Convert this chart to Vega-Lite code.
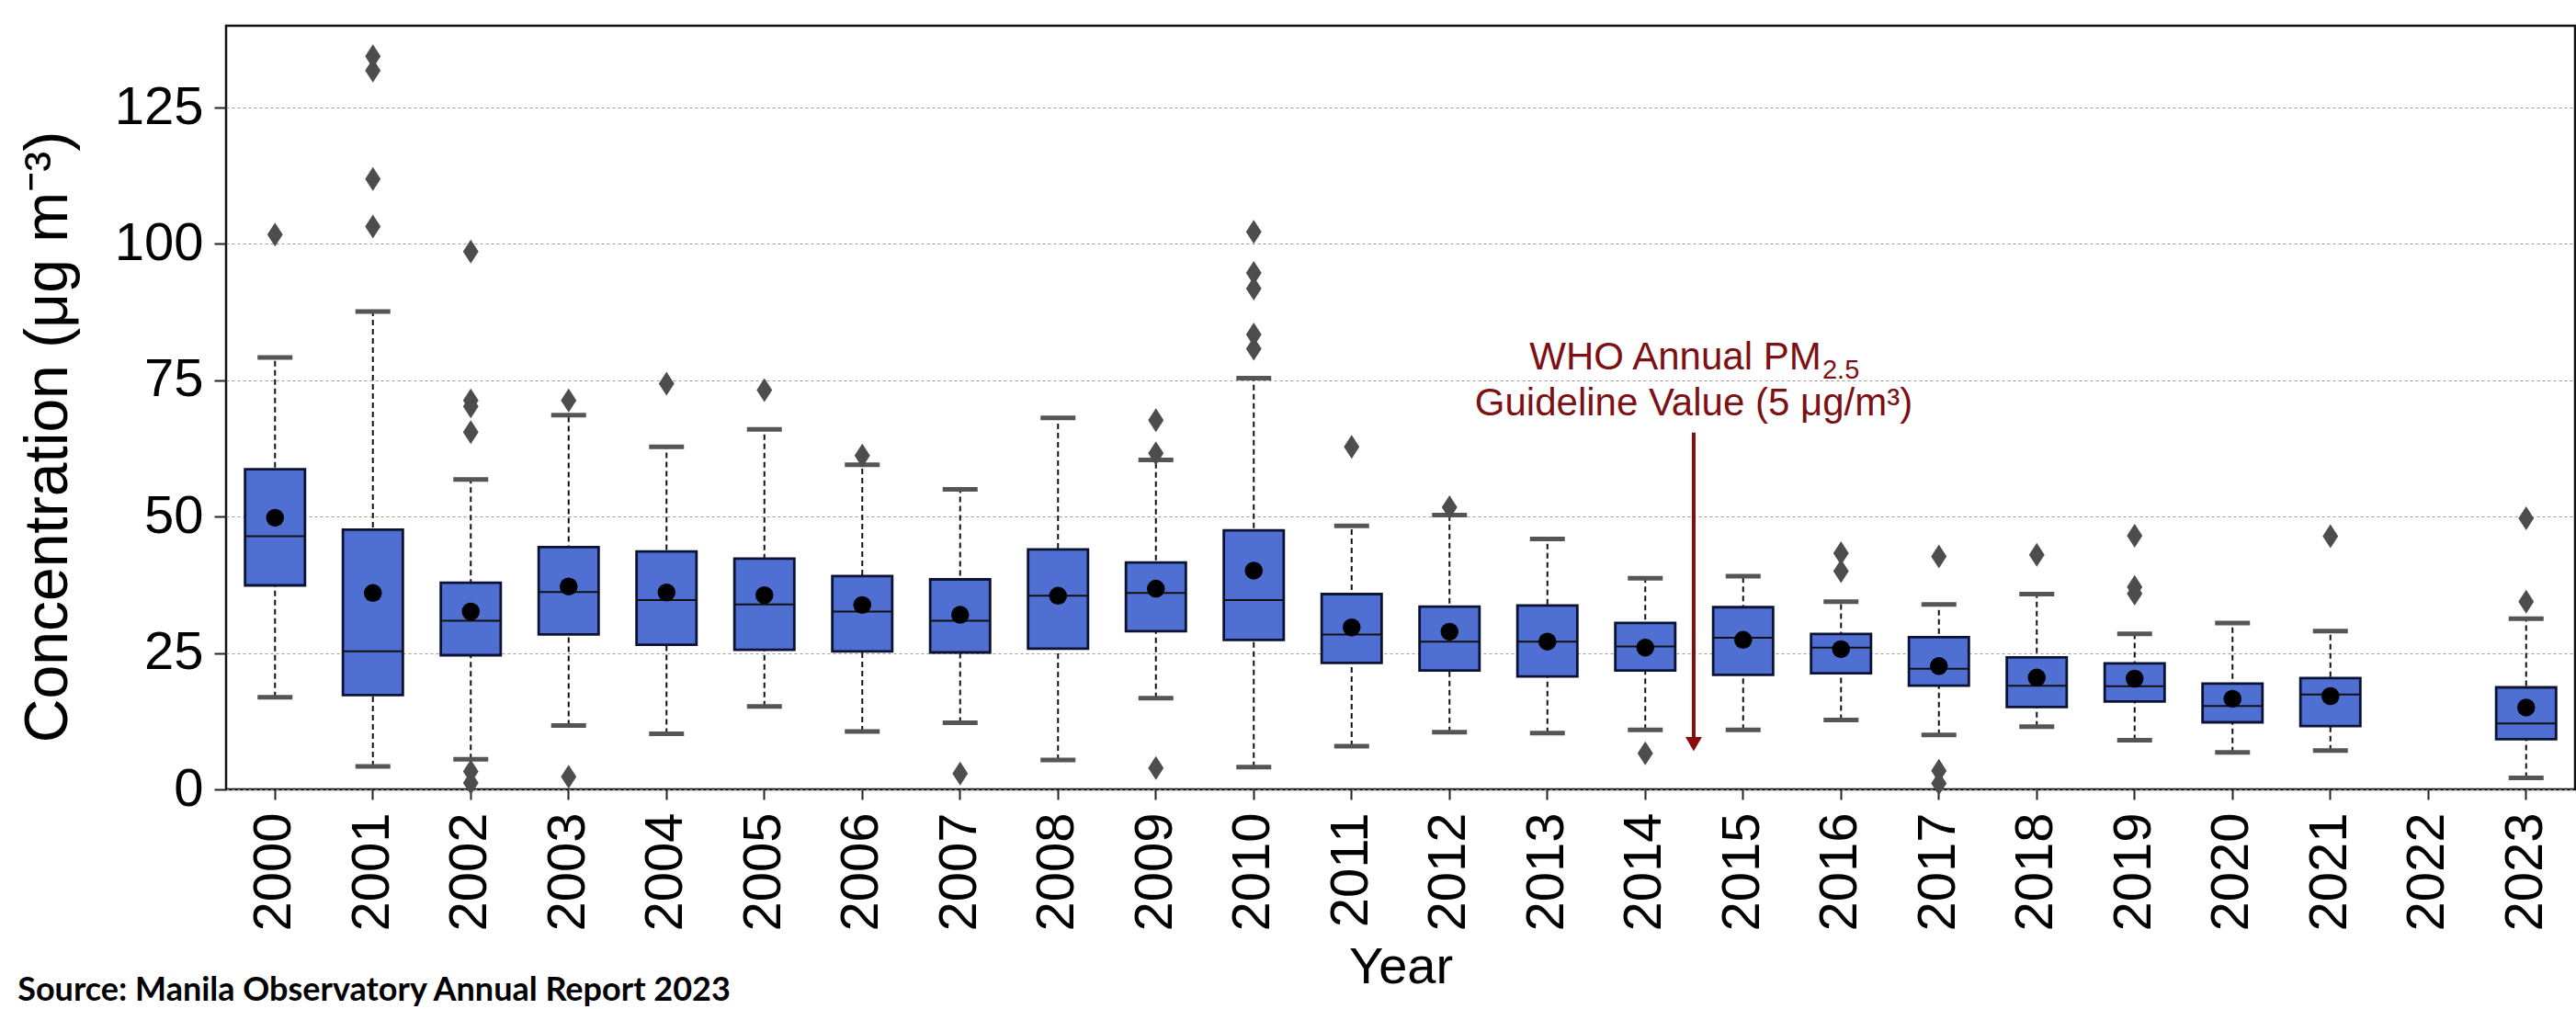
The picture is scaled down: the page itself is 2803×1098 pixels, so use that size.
{
  "$schema": "https://vega.github.io/schema/vega-lite/v6.json",
  "width": 2556,
  "height": 831,
  "autosize": {"type": "none"},
  "padding": {"left": 246, "top": 28, "right": 1, "bottom": 239},
  "background": "white",
  "title": {
    "text": "Source: Manila Observatory Annual Report 2023",
    "orient": "bottom",
    "anchor": "start",
    "frame": "bounds",
    "font": "Lato",
    "fontWeight": "bold",
    "fontSize": 36,
    "color": "#000000",
    "offset": -19
  },
  "config": {
    "font": "Liberation Sans",
    "view": {"stroke": "#111111", "strokeWidth": 2.5, "fill": "white"},
    "axisX": {
      "labelAngle": 270,
      "labelFontSize": 58,
      "labelColor": "#000000",
      "labelPadding": 14,
      "tickSize": 11,
      "tickWidth": 2,
      "tickColor": "#222222",
      "domain": false,
      "grid": false,
      "titleFontSize": 56,
      "titleFontWeight": "normal",
      "titleColor": "#000000",
      "titlePadding": 12
    },
    "axisY": {
      "labelFontSize": 58,
      "labelColor": "#000000",
      "labelPadding": 12,
      "tickSize": 13,
      "tickWidth": 2,
      "tickColor": "#222222",
      "domain": false,
      "grid": true,
      "gridDash": [3, 3],
      "gridColor": "#9a9a9a",
      "gridWidth": 1.2,
      "titleFontSize": 66,
      "titleFontWeight": "normal",
      "titleColor": "#000000",
      "titlePadding": 38,
      "titleY": 447
    }
  },
  "datasets": {
    "boxes": [
      {"year": "2000", "lo": 16.9, "q1": 37.4, "med": 46.4, "q3": 58.7, "hi": 79.2, "mean": 49.8},
      {"year": "2001", "lo": 4.2, "q1": 17.3, "med": 25.3, "q3": 47.6, "hi": 87.6, "mean": 36.0},
      {"year": "2002", "lo": 5.5, "q1": 24.6, "med": 30.9, "q3": 37.9, "hi": 56.8, "mean": 32.6},
      {"year": "2003", "lo": 11.7, "q1": 28.4, "med": 36.2, "q3": 44.4, "hi": 68.6, "mean": 37.2},
      {"year": "2004", "lo": 10.2, "q1": 26.5, "med": 34.7, "q3": 43.6, "hi": 62.8, "mean": 36.1},
      {"year": "2005", "lo": 15.2, "q1": 25.6, "med": 33.9, "q3": 42.3, "hi": 66.0, "mean": 35.6},
      {"year": "2006", "lo": 10.6, "q1": 25.3, "med": 32.6, "q3": 39.1, "hi": 59.5, "mean": 33.8},
      {"year": "2007", "lo": 12.2, "q1": 25.1, "med": 30.9, "q3": 38.5, "hi": 55.0, "mean": 32.0},
      {"year": "2008", "lo": 5.4, "q1": 25.8, "med": 35.5, "q3": 44.0, "hi": 68.1, "mean": 35.5},
      {"year": "2009", "lo": 16.7, "q1": 29.0, "med": 36.0, "q3": 41.6, "hi": 60.4, "mean": 36.8},
      {"year": "2010", "lo": 4.1, "q1": 27.4, "med": 34.7, "q3": 47.5, "hi": 75.4, "mean": 40.1},
      {"year": "2011", "lo": 7.9, "q1": 23.2, "med": 28.4, "q3": 35.8, "hi": 48.3, "mean": 29.7},
      {"year": "2012", "lo": 10.5, "q1": 21.8, "med": 27.1, "q3": 33.5, "hi": 50.3, "mean": 28.9},
      {"year": "2013", "lo": 10.3, "q1": 20.7, "med": 27.1, "q3": 33.7, "hi": 45.9, "mean": 27.1},
      {"year": "2014", "lo": 10.9, "q1": 21.8, "med": 26.2, "q3": 30.5, "hi": 38.7, "mean": 26.0},
      {"year": "2015", "lo": 10.9, "q1": 21.0, "med": 27.8, "q3": 33.4, "hi": 39.1, "mean": 27.4},
      {"year": "2016", "lo": 12.7, "q1": 21.3, "med": 26.0, "q3": 28.5, "hi": 34.4, "mean": 25.7},
      {"year": "2017", "lo": 10.0, "q1": 19.0, "med": 22.1, "q3": 27.9, "hi": 33.9, "mean": 22.6},
      {"year": "2018", "lo": 11.5, "q1": 15.1, "med": 19.0, "q3": 24.2, "hi": 35.8, "mean": 20.5},
      {"year": "2019", "lo": 9.0, "q1": 16.1, "med": 18.9, "q3": 23.1, "hi": 28.5, "mean": 20.3},
      {"year": "2020", "lo": 6.8, "q1": 12.3, "med": 15.3, "q3": 19.4, "hi": 30.5, "mean": 16.6},
      {"year": "2021", "lo": 7.1, "q1": 11.6, "med": 17.4, "q3": 20.4, "hi": 29.0, "mean": 17.1},
      {"year": "2023", "lo": 2.1, "q1": 9.2, "med": 12.1, "q3": 18.7, "hi": 31.3, "mean": 15.0}
    ],
    "outliers": [
      {"year": "2000", "value": 101.7},
      {"year": "2001", "value": 134.4},
      {"year": "2001", "value": 131.8},
      {"year": "2001", "value": 111.9},
      {"year": "2001", "value": 103.2},
      {"year": "2002", "value": 98.6},
      {"year": "2002", "value": 71.3},
      {"year": "2002", "value": 70.2},
      {"year": "2002", "value": 65.5},
      {"year": "2002", "value": 3.3},
      {"year": "2002", "value": 1.2},
      {"year": "2003", "value": 71.3},
      {"year": "2003", "value": 2.3},
      {"year": "2004", "value": 74.4},
      {"year": "2005", "value": 73.2},
      {"year": "2006", "value": 61.2},
      {"year": "2007", "value": 2.9},
      {"year": "2009", "value": 67.7},
      {"year": "2009", "value": 61.6},
      {"year": "2009", "value": 3.9},
      {"year": "2010", "value": 102.2},
      {"year": "2010", "value": 94.7},
      {"year": "2010", "value": 91.8},
      {"year": "2010", "value": 83.4},
      {"year": "2010", "value": 80.8},
      {"year": "2011", "value": 62.8},
      {"year": "2012", "value": 51.7},
      {"year": "2014", "value": 6.6},
      {"year": "2016", "value": 43.3},
      {"year": "2016", "value": 40.0},
      {"year": "2017", "value": 42.7},
      {"year": "2017", "value": 3.4},
      {"year": "2017", "value": 1.1},
      {"year": "2018", "value": 43.0},
      {"year": "2019", "value": 46.5},
      {"year": "2019", "value": 37.1},
      {"year": "2019", "value": 35.9},
      {"year": "2021", "value": 46.4},
      {"year": "2023", "value": 49.7},
      {"year": "2023", "value": 34.4}
    ],
    "arrow": [
      {"year": "2014", "top": 65.4, "bottom": 9.5, "tip": 8.3}
    ],
    "note1": [{"year": "2014", "y": 77.0, "label": "WHO Annual PM", "sub": "2.5"}],
    "note2": [{"year": "2014", "y": 68.6, "label": "Guideline Value (5 μg/m³)"}]
  },
  "layer": [
    {
      "data": {"name": "boxes"},
      "mark": {"type": "rule", "color": "#111111", "strokeWidth": 2, "strokeDash": [6, 4]},
      "encoding": {
        "x": {"field": "year", "type": "ordinal", "title": "Year", "scale": {"domain": ["2000","2001","2002","2003","2004","2005","2006","2007","2008","2009","2010","2011","2012","2013","2014","2015","2016","2017","2018","2019","2020","2021","2022","2023"], "paddingInner": 0.1, "paddingOuter": 0.05}},
        "y": {"field": "lo", "type": "quantitative", "title": "Concentration (μg m⁻³)", "scale": {"domain": [0, 140], "nice": false, "zero": false}, "axis": {"values": [0, 25, 50, 75, 100, 125]}},
        "y2": {"field": "hi"}
      }
    },
    {
      "data": {"name": "boxes"},
      "mark": {"type": "tick", "color": "#555555", "thickness": 5, "size": 38, "opacity": 1},
      "encoding": {
        "x": {"field": "year", "type": "ordinal", "title": "Year"},
        "y": {"field": "lo", "type": "quantitative", "title": "Concentration (μg m⁻³)"}
      }
    },
    {
      "data": {"name": "boxes"},
      "mark": {"type": "tick", "color": "#555555", "thickness": 5, "size": 38, "opacity": 1},
      "encoding": {
        "x": {"field": "year", "type": "ordinal", "title": "Year"},
        "y": {"field": "hi", "type": "quantitative", "title": "Concentration (μg m⁻³)"}
      }
    },
    {
      "data": {"name": "boxes"},
      "mark": {"type": "bar", "fill": "#4f6fd3", "stroke": "#0b1233", "strokeWidth": 2.8, "width": {"band": 0.68}},
      "encoding": {
        "x": {"field": "year", "type": "ordinal", "title": "Year"},
        "y": {"field": "q1", "type": "quantitative", "title": "Concentration (μg m⁻³)"},
        "y2": {"field": "q3"}
      }
    },
    {
      "data": {"name": "boxes"},
      "mark": {"type": "tick", "color": "#111111", "thickness": 2, "size": 65, "opacity": 1},
      "encoding": {
        "x": {"field": "year", "type": "ordinal", "title": "Year"},
        "y": {"field": "med", "type": "quantitative", "title": "Concentration (μg m⁻³)"}
      }
    },
    {
      "mark": {"type": "rule", "color": "#990b0b", "strokeWidth": 5, "strokeDash": [22, 10]},
      "encoding": {
        "y": {"datum": 5, "type": "quantitative"}
      }
    },
    {
      "data": {"name": "boxes"},
      "mark": {"type": "point", "shape": "circle", "filled": true, "color": "#000000", "size": 380, "opacity": 1},
      "encoding": {
        "x": {"field": "year", "type": "ordinal", "title": "Year"},
        "y": {"field": "mean", "type": "quantitative", "title": "Concentration (μg m⁻³)"}
      }
    },
    {
      "data": {"name": "outliers"},
      "mark": {"type": "point", "shape": "M0,-1L0.65,0L0,1L-0.65,0Z", "filled": true, "color": "#4d4d4d", "size": 676, "opacity": 1, "strokeWidth": 0},
      "encoding": {
        "x": {"field": "year", "type": "ordinal", "title": "Year"},
        "y": {"field": "value", "type": "quantitative", "title": "Concentration (μg m⁻³)"}
      }
    },
    {
      "data": {"name": "arrow"},
      "mark": {"type": "rule", "color": "#8b0a0a", "strokeWidth": 4},
      "encoding": {
        "x": {"field": "year", "type": "ordinal", "title": "Year", "bandPosition": 1.05},
        "y": {"field": "top", "type": "quantitative", "title": "Concentration (μg m⁻³)"},
        "y2": {"field": "bottom"}
      }
    },
    {
      "data": {"name": "arrow"},
      "mark": {"type": "point", "shape": "triangle-down", "filled": true, "color": "#8b0a0a", "size": 320, "opacity": 1},
      "encoding": {
        "x": {"field": "year", "type": "ordinal", "title": "Year", "bandPosition": 1.05},
        "y": {"field": "tip", "type": "quantitative", "title": "Concentration (μg m⁻³)"}
      }
    },
    {
      "data": {"name": "note1"},
      "mark": {"type": "text", "font": "Liberation Sans", "fontSize": 42, "color": "#7d1014", "align": "center", "baseline": "alphabetic", "dx": -20},
      "encoding": {
        "x": {"field": "year", "type": "ordinal", "title": "Year", "bandPosition": 1.05},
        "y": {"field": "y", "type": "quantitative", "title": "Concentration (μg m⁻³)"},
        "text": {"field": "label"}
      }
    },
    {
      "data": {"name": "note1"},
      "mark": {"type": "text", "font": "Liberation Sans", "fontSize": 29, "color": "#7d1014", "align": "left", "baseline": "alphabetic", "dx": 140, "dy": 10},
      "encoding": {
        "x": {"field": "year", "type": "ordinal", "title": "Year", "bandPosition": 1.05},
        "y": {"field": "y", "type": "quantitative", "title": "Concentration (μg m⁻³)"},
        "text": {"field": "sub"}
      }
    },
    {
      "data": {"name": "note2"},
      "mark": {"type": "text", "font": "Liberation Sans", "fontSize": 42, "color": "#7d1014", "align": "center", "baseline": "alphabetic"},
      "encoding": {
        "x": {"field": "year", "type": "ordinal", "title": "Year", "bandPosition": 1.05},
        "y": {"field": "y", "type": "quantitative", "title": "Concentration (μg m⁻³)"},
        "text": {"field": "label"}
      }
    }
  ]
}
